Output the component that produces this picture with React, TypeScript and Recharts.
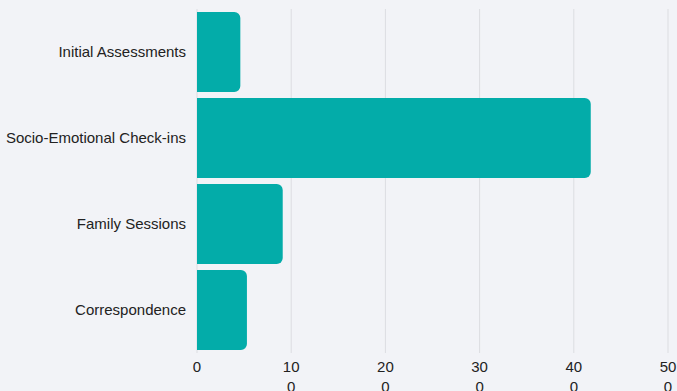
import React from "react";
import { BarChart, Bar, XAxis, YAxis, CartesianGrid } from "recharts";

const categories = [
  "Initial Assessments",
  "Socio-Emotional Check-ins",
  "Family Sessions",
  "Correspondence",
];
const values = [46, 418, 91, 53];
const xTicks = [0, 100, 200, 300, 400, 500];

const data = categories.map((name, i) => ({ name, value: values[i] }));

const FONT = "'Liberation Sans', Arial, sans-serif";

const XTick = (props: any) => {
  const { x, y, payload } = props;
  const s = String(payload.value);
  const lines = s.length > 2 ? [s.slice(0, 2), s.slice(2)] : [s];
  return (
    <text
      x={x}
      y={y}
      textAnchor="middle"
      fill="#222"
      fontSize={15}
      fontFamily={FONT}
    >
      {lines.map((l, i) => (
        <tspan key={i} x={x} dy={i === 0 ? "0.71em" : 20}>
          {l}
        </tspan>
      ))}
    </text>
  );
};

export default function App() {
  return (
    <div
      style={{
        position: "fixed",
        left: 0,
        top: 0,
        width: 677,
        height: 391,
        background: "#f2f3f7",
      }}
    >
      <BarChart
        width={677}
        height={391}
        data={data}
        layout="vertical"
        margin={{ top: 9, right: 9, bottom: 8, left: 0 }}
        barCategoryGap={3}
      >
        <CartesianGrid vertical={true} horizontal={false} stroke="#dcdde1" />
        <XAxis
          type="number"
          domain={[0, 500]}
          ticks={xTicks}
          axisLine={false}
          tickLine={false}
          tick={<XTick />}
          interval={0}
          height={30}
        />
        <YAxis
          type="category"
          dataKey="name"
          width={197}
          axisLine={false}
          tickLine={false}
          tickMargin={5}
          tick={{ fill: "#222", fontSize: 15, fontFamily: FONT }}
        />
        <Bar
          dataKey="value"
          fill="#03aca9"
          radius={[0, 6, 6, 0]}
          isAnimationActive={false}
        />
      </BarChart>
    </div>
  );
}
